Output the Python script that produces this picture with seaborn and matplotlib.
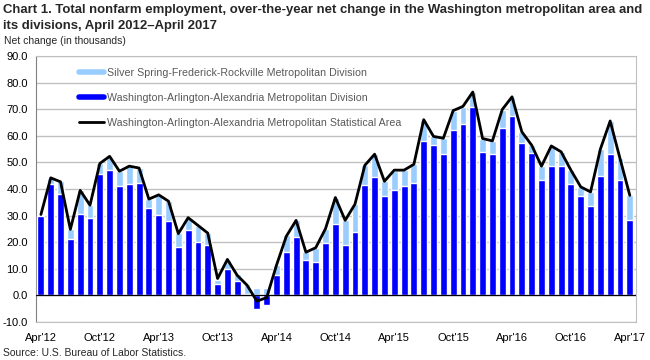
import numpy as np
import pandas as pd
import seaborn as sns
import matplotlib
matplotlib.use("Agg")
import matplotlib.pyplot as plt
from matplotlib.lines import Line2D

# Over-the-year net change, thousands, Apr 2012 .. Apr 2017 (monthly)
washington_div = [29.9, 41.7, 38.0, 21.0, 30.5, 29.2, 45.5, 47.3, 41.2, 42.0, 42.3, 32.9,
                  30.2, 28.1, 18.1, 24.7, 20.1, 18.8, 4.4, 9.9, 5.4, 0.3, -5.0, -3.7,
                  7.5, 16.2, 21.8, 13.3, 12.4, 19.8, 26.9, 18.8, 23.7, 41.4, 44.5, 37.3,
                  39.5, 41.0, 42.3, 58.1, 56.5, 53.2, 62.1, 64.5, 70.9, 54.0, 53.2, 62.9,
                  67.5, 57.2, 53.7, 43.2, 48.7, 48.7, 41.8, 37.4, 33.6, 45.0, 53.1, 43.5,
                  28.2]
silver_spring_div = [0.5, 2.3, 4.9, 4.1, 9.0, 4.7, 4.1, 4.8, 5.6, 6.6, 5.6, 3.5,
                     7.4, 7.4, 5.2, 4.5, 5.9, 4.5, 1.5, 3.5, 2.5, 3.8, 2.7, 2.8,
                     3.8, 6.4, 6.4, 3.0, 5.5, 5.3, 9.9, 9.4, 10.6, 7.5, 8.6, 5.7,
                     7.3, 6.1, 7.0, 8.0, 3.3, 5.9, 7.2, 6.4, 5.6, 5.0, 4.9, 7.0,
                     7.2, 4.3, 3.0, 5.4, 7.5, 5.3, 5.5, 3.4, 5.3, 10.2, 12.5, 8.2,
                     9.4]
washington_msa = [30.4, 44.2, 42.7, 24.8, 39.5, 33.9, 49.6, 52.3, 46.7, 48.6, 47.9, 36.2,
                  37.8, 35.4, 23.2, 29.2, 26.3, 23.4, 6.3, 13.5, 7.5, 3.8, -2.2, -0.9,
                  11.3, 22.2, 28.2, 16.2, 17.9, 25.1, 36.8, 28.2, 34.3, 48.9, 53.1, 42.9,
                  47.1, 47.1, 49.3, 66.1, 59.8, 59.1, 69.5, 71.1, 76.5, 59.0, 58.1, 69.9,
                  74.7, 61.5, 56.5, 48.6, 56.2, 54.0, 47.1, 40.8, 38.9, 55.0, 65.6, 51.5,
                  37.6]
tick_labels = ["Apr'12", "Oct'12", "Apr'13", "Oct'13", "Apr'14", "Oct'14",
               "Apr'15", "Oct'15", "Apr'16", "Oct'16", "Apr'17"]

dark_blue = "#0000FF"
light_blue = "#99CCFF"
text_grey = "#595959"

df = pd.DataFrame({
    "pos": np.arange(len(washington_div)),
    "wash": washington_div,
    "silver": silver_spring_div,
    "msa": washington_msa,
})
# light segment sits on top of the dark one (or on zero when dark is negative)
df["stack_top"] = df["wash"].clip(lower=0) + df["silver"]

sns.set_style("white")
plt.rcParams["font.family"] = ["Liberation Sans", "DejaVu Sans"]

fig = plt.figure(figsize=(6.5, 3.6), dpi=100)
ax = fig.add_axes([0.0554, 0.106, 0.9226, 0.738])

sns.barplot(data=df, x="pos", y="stack_top", color=light_blue, saturation=1,
            width=0.7, ax=ax, zorder=2)
sns.barplot(data=df, x="pos", y="wash", color=dark_blue, saturation=1,
            width=0.7, ax=ax, zorder=3)
sns.lineplot(data=df, x="pos", y="msa", color="black", lw=2, ax=ax, zorder=4)

ax.set_ylim(-10, 90)
ax.set_xlim(-0.5, 60.6)
ax.set_yticks(np.arange(-10, 91, 10))
ax.set_yticklabels([f"{v:.1f}" for v in np.arange(-10, 91, 10)], fontsize=8)
ax.set_xticks(np.arange(0, 61, 6))
ax.set_xticklabels(tick_labels, fontsize=8)
ax.set_xlabel("")
ax.set_ylabel("")
ax.tick_params(axis="both", length=0, colors="black")
ax.tick_params(axis="x", pad=8)
ax.tick_params(axis="y", pad=6)
ax.yaxis.grid(True, color="#C0C0C0", lw=1)
ax.set_axisbelow(True)
ax.axhline(0, color="black", lw=0.9, zorder=3.5)
for side in ["top", "right", "bottom"]:
    ax.spines[side].set_color("#C0C0C0")
ax.spines["left"].set_color("#808080")

handles = [
    Line2D([], [], color=light_blue, lw=4),
    Line2D([], [], color=dark_blue, lw=4),
    Line2D([], [], color="black", lw=2),
]
labels = ["Silver Spring-Frederick-Rockville Metropolitan Division",
          "Washington-Arlington-Alexandria Metropolitan Division",
          "Washington-Arlington-Alexandria Metropolitan Statistical Area"]
leg = ax.legend(handles, labels, loc="upper left", bbox_to_anchor=(0.064, 0.973),
                frameon=False, fontsize=7.7, labelspacing=1.42, handlelength=2.4,
                handletextpad=0.25, labelcolor=text_grey, borderaxespad=0)

fig.text(0.005, 0.988, "Chart 1. Total nonfarm employment, over-the-year net change in the "
         "Washington metropolitan area and\nits divisions, April 2012\u2013April 2017",
         fontsize=9.45, fontweight="bold", va="top", ha="left", linespacing=1.4)
fig.text(0.006, 0.886, "Net change (in thousands)", fontsize=7.5, va="center", ha="left")
fig.text(0.005, 0.02, "Source: U.S. Bureau of Labor Statistics.", fontsize=7.5,
         va="center", ha="left")

fig.savefig("out.png", dpi=100)
